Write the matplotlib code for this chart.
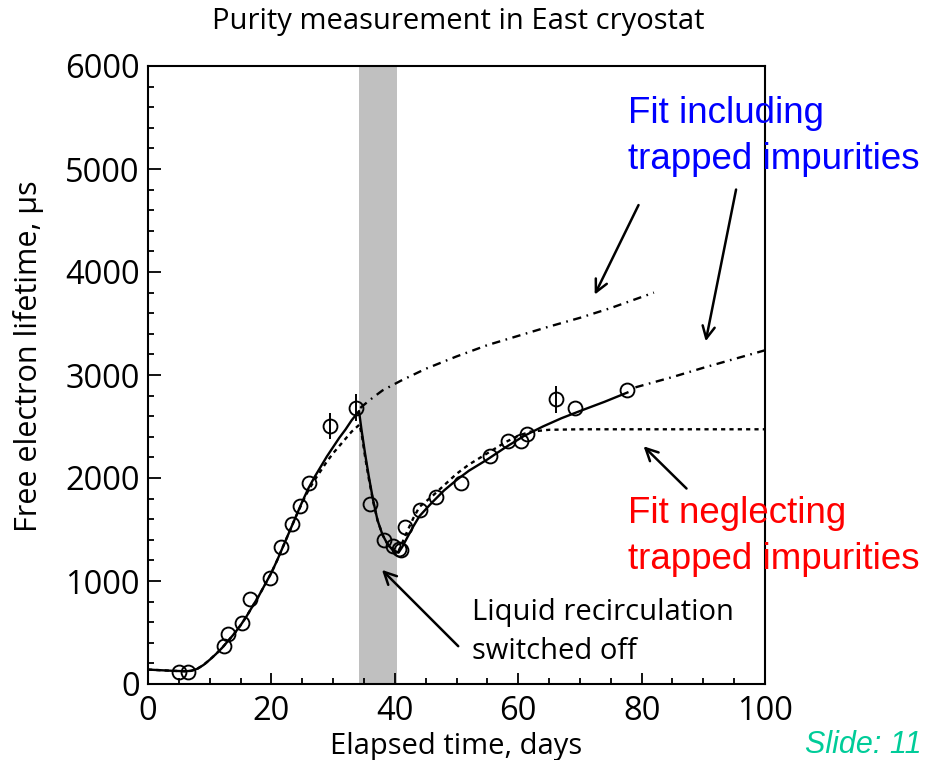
import matplotlib
matplotlib.use("Agg")
import matplotlib.pyplot as plt
from matplotlib.ticker import MultipleLocator

plt.rcParams["font.family"] = ["Open Sans", "DejaVu Sans"]
plt.rcParams["lines.scale_dashes"] = False

# measured lifetimes (days, microseconds)
days = [5.0, 6.5, 12.3, 13.0, 15.3, 16.5, 19.8, 21.5, 23.3, 24.6, 26.1, 29.5, 33.7,
        36.0, 38.2, 39.7, 40.6, 41.0, 41.7, 44.1, 46.7, 50.7, 55.5, 58.4, 60.5,
        61.5, 66.1, 69.2, 77.7]
lifetime = [120, 120, 373, 484, 591, 828, 1029, 1327, 1558, 1733, 1954, 2505, 2684,
            1750, 1402, 1337, 1311, 1305, 1526, 1694, 1814, 1947, 2213, 2359, 2359,
            2424, 2765, 2677, 2856]
err = [0, 0, 0, 0, 0, 0, 0, 0, 0, 0, 0, 130, 130,
       0, 0, 0, 0, 0, 0, 0, 0, 0, 0, 0, 0,
       0, 130, 0, 0]

# fit including trapped impurities
fit_t = [0, 2, 4, 6, 7, 8, 9, 10, 11, 12, 13, 14, 15, 16, 17, 18, 19, 20, 21, 22, 23,
         24, 25, 26, 27, 28, 29, 30, 31, 32, 33, 34.2, 34.6, 35.2, 35.8, 36.5, 37.2,
         38.0, 38.8, 39.6, 40.6, 41.2, 42, 43, 44, 46, 48, 50, 52, 55, 58, 61, 64,
         67, 70, 74, 77.7]
fit_incl = [140, 134, 128, 124, 128, 148, 185, 235, 290, 350, 420, 490, 570, 660,
            760, 860, 970, 1080, 1210, 1350, 1490, 1630, 1770, 1900, 2010, 2110, 2210,
            2300, 2390, 2470, 2560, 2650, 2470, 2230, 2010, 1780, 1590, 1450, 1360,
            1305, 1275, 1330, 1420, 1530, 1630, 1760, 1880, 1980, 2070, 2180, 2300,
            2410, 2500, 2580, 2650, 2740, 2830]

# extrapolations of the full model
extrap_a_t = [34.4, 36, 38, 41, 45, 50, 55, 60, 65, 70, 75, 82]
extrap_a = [2680, 2760, 2850, 2945, 3060, 3180, 3290, 3380, 3470, 3555, 3650, 3800]
extrap_b_t = [79, 85, 90, 95, 100]
extrap_b = [2880, 2980, 3070, 3155, 3240]

# fit neglecting trapped impurities
neg_t = [0, 2, 4, 6, 7, 8, 9, 10, 11, 12, 13, 14, 15, 16, 17, 18, 19, 20, 21, 22, 23,
         24, 25, 26, 27, 28, 29, 30, 31, 32, 33, 34.3, 34.7, 35.2, 35.8, 36.5, 37.2,
         38.0, 38.8, 39.6, 40.6, 41.2, 42, 43, 44, 46, 48, 50, 52, 55, 58, 60, 62,
         65, 70, 80, 100]
neg_fit = [140, 134, 128, 124, 128, 148, 185, 235, 290, 350, 420, 490, 570, 660,
           760, 860, 970, 1080, 1210, 1350, 1490, 1630, 1760, 1880, 1980, 2070, 2160,
           2240, 2310, 2380, 2450, 2520, 2400, 2200, 1990, 1770, 1590, 1450, 1360,
           1310, 1290, 1370, 1480, 1610, 1720, 1820, 1930, 2040, 2130, 2240, 2350,
           2410, 2450, 2468, 2473, 2473, 2473]

recirc_off = (34.2, 40.4)

fig = plt.figure(figsize=(9.3, 7.6), dpi=100)
ax = fig.add_axes([148 / 930, 76 / 760, 617 / 930, 618 / 760])

ax.axvspan(*recirc_off, color="#c0c0c0", lw=0, zorder=0)

ax.plot(fit_t, fit_incl, color="black", lw=1.7, zorder=3)
ax.plot(neg_t, neg_fit, color="black", lw=1.7, dashes=(3, 3), zorder=3)
ax.plot(extrap_a_t, extrap_a, color="black", lw=1.7, dashes=(6, 4, 1.2, 4), zorder=3)
ax.plot(extrap_b_t, extrap_b, color="black", lw=1.7, dashes=(6, 4, 1.2, 4), zorder=3)
ax.errorbar(days, lifetime, yerr=err, fmt="o", ms=10, mfc="none", mec="black",
            mew=1.35, ecolor="black", elinewidth=1.4, capsize=0, zorder=4)

ax.set_xlim(0, 100)
ax.set_ylim(0, 6000)
ax.xaxis.set_major_locator(MultipleLocator(20))
ax.xaxis.set_minor_locator(MultipleLocator(5))
ax.yaxis.set_major_locator(MultipleLocator(1000))
ax.yaxis.set_minor_locator(MultipleLocator(200))
ax.tick_params(which="both", direction="in", width=1.3, labelsize=23.5, top=False, right=False)
ax.tick_params(axis="x", which="major", length=8, pad=8)
ax.tick_params(axis="y", which="major", length=9, pad=6)
ax.tick_params(which="minor", length=4.5)
for sp in ax.spines.values():
    sp.set_linewidth(1.5)

ax.set_xlabel("Elapsed time, days", fontsize=21, labelpad=3)
ax.set_ylabel("Free electron lifetime, µs", fontsize=22)
ax.yaxis.set_label_coords(-0.168, 0.53)
fig.text(458 / 930, 1 - 22 / 760, "Purity measurement in East cryostat",
         fontsize=21, ha="center", va="center")

arrow = dict(arrowstyle="->", color="black", lw=1.8, mutation_scale=22)
ax.annotate("", xy=(72.2, 3756), xytext=(79.7, 4674), arrowprops=arrow, annotation_clip=False)
ax.annotate("", xy=(90.3, 3301), xytext=(95.4, 4827), arrowprops=arrow, annotation_clip=False)
ax.annotate("", xy=(80.0, 2327), xytext=(87.6, 1879), arrowprops=arrow, annotation_clip=False)
ax.annotate("", xy=(37.6, 1127), xytext=(50.6, 348), arrowprops=arrow, annotation_clip=False)

lab = dict(family=["Liberation Sans", "DejaVu Sans"], fontsize=26.5, linespacing=1.42)
fig.text(628 / 930, 1 - 96 / 760, "Fit including\ntrapped impurities", color="#0000ff",
         ha="left", va="top", **lab)
fig.text(628 / 930, 1 - 496 / 760, "Fit neglecting\ntrapped impurities", color="#ff0000",
         ha="left", va="top", **lab)
fig.text(472 / 930, 1 - 598 / 760, "Liquid recirculation\nswitched off", fontsize=21,
         ha="left", va="top", linespacing=1.45)
fig.text(922 / 930, 1 - 745 / 760, "Slide: 11", color="#00cc99", fontsize=22,
         style="italic", family=["Liberation Sans", "DejaVu Sans"], ha="right", va="center")

fig.savefig("out.png", dpi=100)
